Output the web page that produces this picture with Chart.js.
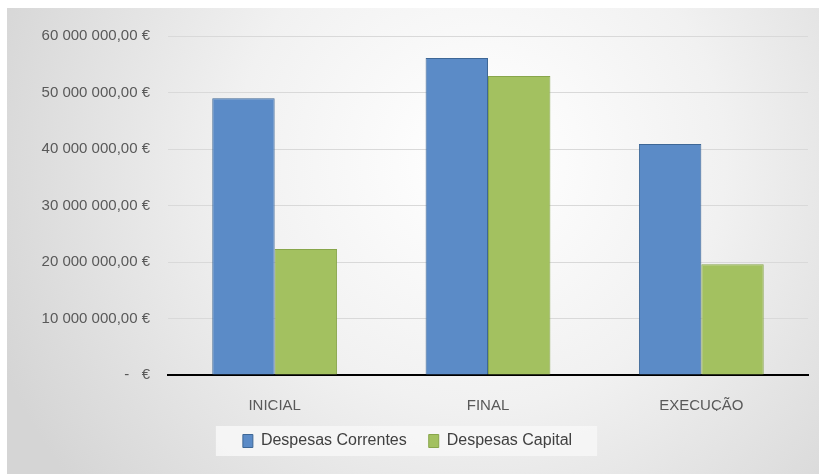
<!DOCTYPE html>
<html>
<head>
<meta charset="utf-8">
<script src="https://cdn.jsdelivr.net/npm/chart.js@4"></script>
<style>
  html, body { margin: 0; padding: 0; background: #fff; }
  #wrap { width: 819px; height: 474px; }
</style>
</head>
<body>
<div id="wrap"><canvas id="despesasChart" width="819" height="474"></canvas></div>
<script>
const categorias = ['INICIAL', 'FINAL', 'EXECUÇÃO'];
const despesasCorrentes = [49000000, 56100000, 40900000];
const despesasCapital = [22300000, 52900000, 19600000];
const yMax = 60000000;
const yStep = 10000000;

const fonte = 'Liberation Sans, Arial, sans-serif';

function formatEuro(v) {
  if (v === 0) return '-   €';
  const inteiro = Math.round(v).toString().replace(/\B(?=(\d{3})+(?!\d))/g, ' ');
  return inteiro + ',00 €';
}

// painted background: soft radial shading behind the whole chart,
// plus a lighter panel behind the legend entries
const fundo = {
  id: 'fundo',
  beforeDraw(chart) {
    const c = chart.ctx;
    c.save();
    const g = c.createRadialGradient(480, 160, 20, 480, 160, 520);
    g.addColorStop(0, '#ffffff');
    g.addColorStop(0.45, '#f1f1f1');
    g.addColorStop(1, '#d5d5d5');
    c.fillStyle = g;
    c.fillRect(7, 8, 812, 466);
    const caixas = chart.legend.legendHitBoxes || [];
    if (caixas.length) {
      const primeira = caixas[0];
      const ultima = caixas[caixas.length - 1];
      const x0 = primeira.left - 27;
      const x1 = ultima.left + ultima.width + 25;
      const yc = primeira.top + primeira.height / 2;
      c.fillStyle = 'rgba(246,246,246,0.9)';
      c.fillRect(x0, yc - 15, x1 - x0, 30);
    }
    c.restore();
  }
};

const ctx = document.getElementById('despesasChart').getContext('2d');
new Chart(ctx, {
  type: 'bar',
  data: {
    labels: categorias,
    datasets: [{
      label: 'Despesas Correntes',
      data: despesasCorrentes,
      backgroundColor: '#5b8bc7',
      borderColor: '#3e6796',
      borderWidth: 1
    }, {
      label: 'Despesas Capital',
      data: despesasCapital,
      backgroundColor: '#a3c160',
      borderColor: '#88a64b',
      borderWidth: 1
    }]
  },
  options: {
    responsive: false,
    animation: false,
    layout: { padding: { left: 7, top: 36, right: 11, bottom: 15 } },
    font: { family: fonte },
    plugins: {
      tooltip: { enabled: false },
      legend: {
        position: 'bottom',
        labels: {
          boxWidth: 10,
          boxHeight: 13,
          color: '#404040',
          padding: 22,
          font: { size: 16, family: fonte }
        }
      }
    },
    datasets: { bar: { categoryPercentage: 0.585, barPercentage: 1 } },
    scales: {
      x: {
        afterFit(scale) { scale.height = 36; },
        grid: { display: false },
        border: { color: '#000000', width: 2 },
        ticks: {
          color: '#595959',
          padding: 14,
          font: { size: 15, family: fonte }
        }
      },
      y: {
        min: 0,
        max: yMax,
        afterFit(scale) { scale.width = 161; },
        grid: { color: '#d9d9d9', lineWidth: 1, drawTicks: false },
        border: { display: false },
        ticks: {
          stepSize: yStep,
          padding: 18,
          color: '#595959',
          font: { size: 15, family: fonte },
          callback: v => formatEuro(v)
        }
      }
    }
  },
  plugins: [fundo]
});
</script>
</body>
</html>
